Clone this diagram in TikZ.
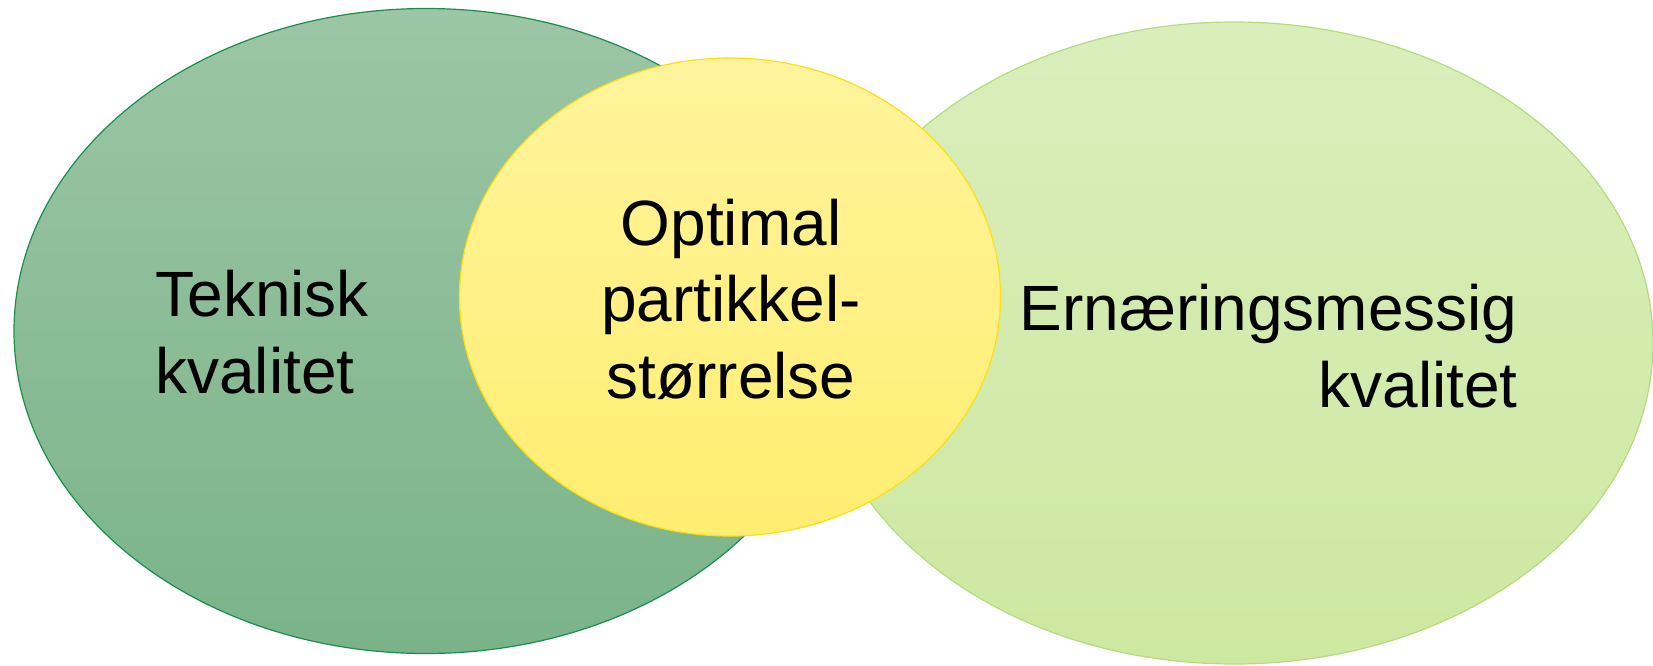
\documentclass[tikz,border=0pt]{standalone}
\usepackage{fontspec}
\setmainfont{Liberation Sans}
\usepackage{tikz}
\usetikzlibrary{shapes.geometric}
\definecolor{tekTop}{RGB}{156, 198, 165}
\definecolor{tekBot}{RGB}{122, 179, 137}
\definecolor{tekLine}{RGB}{26, 142, 78}
\definecolor{optTop}{RGB}{255, 244, 156}
\definecolor{optBot}{RGB}{255, 238, 112}
\definecolor{optLine}{RGB}{255, 222, 20}
\definecolor{ernTop}{RGB}{218, 238, 188}
\definecolor{ernBot}{RGB}{205, 232, 160}
\definecolor{ernLine}{RGB}{180, 220, 126}

\begin{document}
\begin{tikzpicture}[x=0.5pt, y=-0.5pt,
  blob/.style={ellipse, inner sep=0pt, line width=0.6pt},
  tekst/.style={inner sep=0pt, text=black, font=\fontsize{32}{38.25}\selectfont}]

  \useasboundingbox (0, 0) rectangle (1653, 665);

  \node[blob, minimum width=412pt, minimum height=322.5pt,
    top color=tekTop, bottom color=tekBot, draw=tekLine] (tek) at (426, 331) {};
  \node[blob, minimum width=419pt, minimum height=321pt,
    top color=ernTop, bottom color=ernBot, draw=ernLine] (ern) at (1234, 343) {};
  \node[blob, minimum width=270.5pt, minimum height=239pt,
    top color=optTop, bottom color=optBot, draw=optLine] (opt) at (730, 297) {};

  \node[tekst, anchor=west, align=left] (tekTxt) at (155, 332)
    {Teknisk\\kvalitet};
  \node[tekst, anchor=east, align=right] (ernTxt) at (1518, 346)
    {Ernæringsmessig\\kvalitet};
  \node[tekst, align=center] (optTxt) at (731, 299)
    {Optimal\\partikkel-\\størrelse};

\end{tikzpicture}
\end{document}
